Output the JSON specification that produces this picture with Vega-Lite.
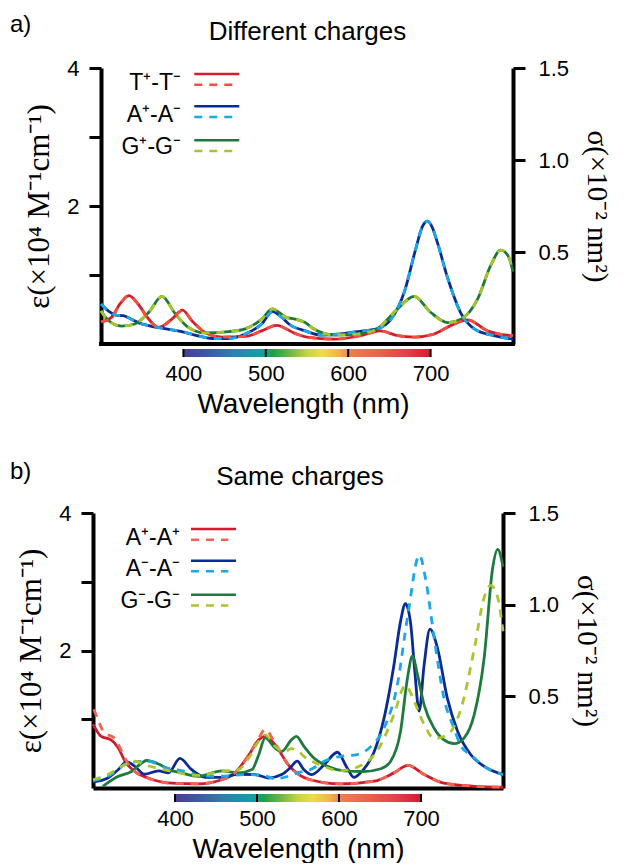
{
"$schema":"https://vega.github.io/schema/vega-lite/v6.json",
"padding":{"left":10,"top":12,"right":14,"bottom":0},
"config":{"font":"Liberation Sans","view":{"stroke":null},"axis":{"grid":false}},
"datasets":{
"a_eps":[
{"s":"T_s","wl":300,"v":0.32},{"s":"T_s","wl":313,"v":0.39},{"s":"T_s","wl":323,"v":0.58},{"s":"T_s","wl":334,"v":0.70},{"s":"T_s","wl":345,"v":0.58},{"s":"T_s","wl":356,"v":0.39},{"s":"T_s","wl":370,"v":0.24},{"s":"T_s","wl":386,"v":0.36},{"s":"T_s","wl":399,"v":0.49},{"s":"T_s","wl":410,"v":0.34},{"s":"T_s","wl":426,"v":0.17},{"s":"T_s","wl":447,"v":0.10},{"s":"T_s","wl":475,"v":0.11},{"s":"T_s","wl":495,"v":0.19},{"s":"T_s","wl":513,"v":0.27},{"s":"T_s","wl":536,"v":0.15},{"s":"T_s","wl":550,"v":0.10},{"s":"T_s","wl":583,"v":0.07},{"s":"T_s","wl":615,"v":0.12},{"s":"T_s","wl":639,"v":0.19},{"s":"T_s","wl":660,"v":0.12},{"s":"T_s","wl":680,"v":0.10},{"s":"T_s","wl":704,"v":0.145},{"s":"T_s","wl":725,"v":0.27},{"s":"T_s","wl":745,"v":0.35},{"s":"T_s","wl":769,"v":0.19},{"s":"T_s","wl":785,"v":0.14},{"s":"T_s","wl":800,"v":0.12},
{"s":"A_s","wl":300,"v":0.58},{"s":"A_s","wl":310,"v":0.47},{"s":"A_s","wl":318,"v":0.42},{"s":"A_s","wl":327,"v":0.41},{"s":"A_s","wl":335,"v":0.37},{"s":"A_s","wl":345,"v":0.31},{"s":"A_s","wl":360,"v":0.26},{"s":"A_s","wl":374,"v":0.23},{"s":"A_s","wl":398,"v":0.18},{"s":"A_s","wl":414,"v":0.13},{"s":"A_s","wl":435,"v":0.08},{"s":"A_s","wl":455,"v":0.08},{"s":"A_s","wl":475,"v":0.145},{"s":"A_s","wl":495,"v":0.29},{"s":"A_s","wl":508,"v":0.47},{"s":"A_s","wl":520,"v":0.38},{"s":"A_s","wl":528,"v":0.29},{"s":"A_s","wl":548,"v":0.19},{"s":"A_s","wl":566,"v":0.13},{"s":"A_s","wl":591,"v":0.145},{"s":"A_s","wl":611,"v":0.18},{"s":"A_s","wl":635,"v":0.22},{"s":"A_s","wl":652,"v":0.36},{"s":"A_s","wl":668,"v":0.75},{"s":"A_s","wl":682,"v":1.38},{"s":"A_s","wl":690,"v":1.70},{"s":"A_s","wl":696,"v":1.78},{"s":"A_s","wl":702,"v":1.69},{"s":"A_s","wl":708,"v":1.48},{"s":"A_s","wl":721,"v":0.945},{"s":"A_s","wl":737,"v":0.44},{"s":"A_s","wl":753,"v":0.22},{"s":"A_s","wl":777,"v":0.12},{"s":"A_s","wl":800,"v":0.07},
{"s":"G_s","wl":300,"v":0.48},{"s":"G_s","wl":309,"v":0.34},{"s":"G_s","wl":325,"v":0.26},{"s":"G_s","wl":341,"v":0.29},{"s":"G_s","wl":358,"v":0.46},{"s":"G_s","wl":374,"v":0.69},{"s":"G_s","wl":390,"v":0.44},{"s":"G_s","wl":406,"v":0.24},{"s":"G_s","wl":426,"v":0.16},{"s":"G_s","wl":455,"v":0.18},{"s":"G_s","wl":475,"v":0.22},{"s":"G_s","wl":495,"v":0.36},{"s":"G_s","wl":508,"v":0.51},{"s":"G_s","wl":524,"v":0.39},{"s":"G_s","wl":536,"v":0.36},{"s":"G_s","wl":548,"v":0.31},{"s":"G_s","wl":558,"v":0.22},{"s":"G_s","wl":583,"v":0.13},{"s":"G_s","wl":611,"v":0.145},{"s":"G_s","wl":635,"v":0.22},{"s":"G_s","wl":660,"v":0.51},{"s":"G_s","wl":680,"v":0.69},{"s":"G_s","wl":700,"v":0.46},{"s":"G_s","wl":721,"v":0.31},{"s":"G_s","wl":737,"v":0.36},{"s":"G_s","wl":757,"v":0.65},{"s":"G_s","wl":773,"v":1.14},{"s":"G_s","wl":785,"v":1.36},{"s":"G_s","wl":794,"v":1.28},{"s":"G_s","wl":800,"v":1.05}
],
"a_sig":[
{"s":"T_d","wl":300,"v":0.12},{"s":"T_d","wl":313,"v":0.146},{"s":"T_d","wl":323,"v":0.2175},{"s":"T_d","wl":334,"v":0.2625},{"s":"T_d","wl":345,"v":0.2175},{"s":"T_d","wl":356,"v":0.146},{"s":"T_d","wl":370,"v":0.09},{"s":"T_d","wl":386,"v":0.135},{"s":"T_d","wl":399,"v":0.184},{"s":"T_d","wl":410,"v":0.1275},{"s":"T_d","wl":426,"v":0.064},{"s":"T_d","wl":447,"v":0.0375},{"s":"T_d","wl":475,"v":0.041},{"s":"T_d","wl":495,"v":0.071},{"s":"T_d","wl":513,"v":0.101},{"s":"T_d","wl":536,"v":0.056},{"s":"T_d","wl":550,"v":0.0375},{"s":"T_d","wl":583,"v":0.026},{"s":"T_d","wl":615,"v":0.045},{"s":"T_d","wl":639,"v":0.071},{"s":"T_d","wl":660,"v":0.045},{"s":"T_d","wl":680,"v":0.0375},{"s":"T_d","wl":704,"v":0.054},{"s":"T_d","wl":725,"v":0.101},{"s":"T_d","wl":745,"v":0.131},{"s":"T_d","wl":769,"v":0.071},{"s":"T_d","wl":785,"v":0.0525},{"s":"T_d","wl":800,"v":0.045},
{"s":"A_d","wl":300,"v":0.2175},{"s":"A_d","wl":310,"v":0.176},{"s":"A_d","wl":318,"v":0.1575},{"s":"A_d","wl":327,"v":0.154},{"s":"A_d","wl":335,"v":0.139},{"s":"A_d","wl":345,"v":0.116},{"s":"A_d","wl":360,"v":0.0975},{"s":"A_d","wl":374,"v":0.086},{"s":"A_d","wl":398,"v":0.0675},{"s":"A_d","wl":414,"v":0.049},{"s":"A_d","wl":435,"v":0.03},{"s":"A_d","wl":455,"v":0.03},{"s":"A_d","wl":475,"v":0.054},{"s":"A_d","wl":495,"v":0.109},{"s":"A_d","wl":508,"v":0.176},{"s":"A_d","wl":520,"v":0.1425},{"s":"A_d","wl":528,"v":0.109},{"s":"A_d","wl":548,"v":0.071},{"s":"A_d","wl":566,"v":0.049},{"s":"A_d","wl":591,"v":0.054},{"s":"A_d","wl":611,"v":0.0675},{"s":"A_d","wl":635,"v":0.0825},{"s":"A_d","wl":652,"v":0.135},{"s":"A_d","wl":668,"v":0.281},{"s":"A_d","wl":682,"v":0.5175},{"s":"A_d","wl":690,"v":0.6375},{"s":"A_d","wl":696,"v":0.6675},{"s":"A_d","wl":702,"v":0.634},{"s":"A_d","wl":708,"v":0.555},{"s":"A_d","wl":721,"v":0.354},{"s":"A_d","wl":737,"v":0.165},{"s":"A_d","wl":753,"v":0.0825},{"s":"A_d","wl":777,"v":0.045},{"s":"A_d","wl":800,"v":0.026},
{"s":"G_d","wl":300,"v":0.18},{"s":"G_d","wl":309,"v":0.1275},{"s":"G_d","wl":325,"v":0.0975},{"s":"G_d","wl":341,"v":0.109},{"s":"G_d","wl":358,"v":0.1725},{"s":"G_d","wl":374,"v":0.259},{"s":"G_d","wl":390,"v":0.165},{"s":"G_d","wl":406,"v":0.09},{"s":"G_d","wl":426,"v":0.06},{"s":"G_d","wl":455,"v":0.0675},{"s":"G_d","wl":475,"v":0.0825},{"s":"G_d","wl":495,"v":0.135},{"s":"G_d","wl":508,"v":0.191},{"s":"G_d","wl":524,"v":0.146},{"s":"G_d","wl":536,"v":0.135},{"s":"G_d","wl":548,"v":0.116},{"s":"G_d","wl":558,"v":0.0825},{"s":"G_d","wl":583,"v":0.049},{"s":"G_d","wl":611,"v":0.054},{"s":"G_d","wl":635,"v":0.0825},{"s":"G_d","wl":660,"v":0.191},{"s":"G_d","wl":680,"v":0.259},{"s":"G_d","wl":700,"v":0.1725},{"s":"G_d","wl":721,"v":0.116},{"s":"G_d","wl":737,"v":0.135},{"s":"G_d","wl":757,"v":0.244},{"s":"G_d","wl":773,"v":0.4275},{"s":"G_d","wl":785,"v":0.51},{"s":"G_d","wl":794,"v":0.48},{"s":"G_d","wl":800,"v":0.394}
],
"b_eps":[
{"s":"P_s","wl":300,"v":0.93},{"s":"P_s","wl":310,"v":0.75},{"s":"P_s","wl":322,"v":0.70},{"s":"P_s","wl":331,"v":0.58},{"s":"P_s","wl":339,"v":0.39},{"s":"P_s","wl":351,"v":0.24},{"s":"P_s","wl":367,"v":0.145},{"s":"P_s","wl":396,"v":0.07},{"s":"P_s","wl":428,"v":0.06},{"s":"P_s","wl":457,"v":0.12},{"s":"P_s","wl":473,"v":0.22},{"s":"P_s","wl":490,"v":0.48},{"s":"P_s","wl":502,"v":0.70},{"s":"P_s","wl":510,"v":0.75},{"s":"P_s","wl":522,"v":0.63},{"s":"P_s","wl":538,"v":0.34},{"s":"P_s","wl":551,"v":0.195},{"s":"P_s","wl":565,"v":0.12},{"s":"P_s","wl":602,"v":0.06},{"s":"P_s","wl":643,"v":0.10},{"s":"P_s","wl":667,"v":0.22},{"s":"P_s","wl":684,"v":0.33},{"s":"P_s","wl":704,"v":0.195},{"s":"P_s","wl":728,"v":0.07},{"s":"P_s","wl":765,"v":0.025},{"s":"P_s","wl":800,"v":0.01},
{"s":"M_s","wl":300,"v":0.087},{"s":"M_s","wl":318,"v":0.145},{"s":"M_s","wl":331,"v":0.27},{"s":"M_s","wl":341,"v":0.38},{"s":"M_s","wl":351,"v":0.315},{"s":"M_s","wl":363,"v":0.20},{"s":"M_s","wl":380,"v":0.25},{"s":"M_s","wl":392,"v":0.22},{"s":"M_s","wl":406,"v":0.43},{"s":"M_s","wl":420,"v":0.27},{"s":"M_s","wl":437,"v":0.155},{"s":"M_s","wl":457,"v":0.155},{"s":"M_s","wl":477,"v":0.20},{"s":"M_s","wl":498,"v":0.195},{"s":"M_s","wl":514,"v":0.145},{"s":"M_s","wl":530,"v":0.195},{"s":"M_s","wl":541,"v":0.30},{"s":"M_s","wl":549,"v":0.39},{"s":"M_s","wl":557,"v":0.27},{"s":"M_s","wl":567,"v":0.195},{"s":"M_s","wl":582,"v":0.34},{"s":"M_s","wl":598,"v":0.52},{"s":"M_s","wl":610,"v":0.29},{"s":"M_s","wl":618,"v":0.155},{"s":"M_s","wl":630,"v":0.27},{"s":"M_s","wl":643,"v":0.53},{"s":"M_s","wl":655,"v":1.02},{"s":"M_s","wl":667,"v":1.79},{"s":"M_s","wl":675,"v":2.42},{"s":"M_s","wl":681,"v":2.68},{"s":"M_s","wl":687.5,"v":2.38},{"s":"M_s","wl":692.4,"v":1.70},{"s":"M_s","wl":697.7,"v":1.12},{"s":"M_s","wl":703.8,"v":1.79},{"s":"M_s","wl":711,"v":2.31},{"s":"M_s","wl":720,"v":2.04},{"s":"M_s","wl":732,"v":1.31},{"s":"M_s","wl":744.6,"v":0.825},{"s":"M_s","wl":761,"v":0.48},{"s":"M_s","wl":777,"v":0.315},{"s":"M_s","wl":800,"v":0.195},
{"s":"N_s","wl":312,"v":0.025},{"s":"N_s","wl":331,"v":0.17},{"s":"N_s","wl":347,"v":0.24},{"s":"N_s","wl":359,"v":0.36},{"s":"N_s","wl":365,"v":0.40},{"s":"N_s","wl":380,"v":0.35},{"s":"N_s","wl":392,"v":0.27},{"s":"N_s","wl":408,"v":0.22},{"s":"N_s","wl":428,"v":0.17},{"s":"N_s","wl":457,"v":0.25},{"s":"N_s","wl":477,"v":0.22},{"s":"N_s","wl":494,"v":0.27},{"s":"N_s","wl":502,"v":0.48},{"s":"N_s","wl":510,"v":0.73},{"s":"N_s","wl":522,"v":0.58},{"s":"N_s","wl":530,"v":0.53},{"s":"N_s","wl":542,"v":0.70},{"s":"N_s","wl":548,"v":0.75},{"s":"N_s","wl":557,"v":0.61},{"s":"N_s","wl":569,"v":0.44},{"s":"N_s","wl":586,"v":0.315},{"s":"N_s","wl":606,"v":0.25},{"s":"N_s","wl":630,"v":0.24},{"s":"N_s","wl":651,"v":0.28},{"s":"N_s","wl":663,"v":0.39},{"s":"N_s","wl":675,"v":0.82},{"s":"N_s","wl":683.5,"v":1.6},{"s":"N_s","wl":689.6,"v":1.92},{"s":"N_s","wl":695.7,"v":1.65},{"s":"N_s","wl":703.8,"v":1.21},{"s":"N_s","wl":716,"v":0.87},{"s":"N_s","wl":728,"v":0.70},{"s":"N_s","wl":740.5,"v":0.645},{"s":"N_s","wl":752.7,"v":0.73},{"s":"N_s","wl":765,"v":1.07},{"s":"N_s","wl":777,"v":1.89},{"s":"N_s","wl":787.4,"v":3.2},{"s":"N_s","wl":793.5,"v":3.47},{"s":"N_s","wl":800,"v":3.22}
],
"b_sig":[
{"s":"P_d","wl":301,"v":0.43},{"s":"P_d","wl":306,"v":0.373},{"s":"P_d","wl":314,"v":0.30},{"s":"P_d","wl":326,"v":0.273},{"s":"P_d","wl":335,"v":0.20},{"s":"P_d","wl":341,"v":0.146},{"s":"P_d","wl":351,"v":0.09},{"s":"P_d","wl":367,"v":0.054},{"s":"P_d","wl":396,"v":0.026},{"s":"P_d","wl":428,"v":0.0225},{"s":"P_d","wl":457,"v":0.045},{"s":"P_d","wl":473,"v":0.0825},{"s":"P_d","wl":490,"v":0.18},{"s":"P_d","wl":502,"v":0.27},{"s":"P_d","wl":510,"v":0.32},{"s":"P_d","wl":522,"v":0.245},{"s":"P_d","wl":538,"v":0.1275},{"s":"P_d","wl":551,"v":0.073},{"s":"P_d","wl":565,"v":0.045},{"s":"P_d","wl":602,"v":0.0225},{"s":"P_d","wl":643,"v":0.0375},{"s":"P_d","wl":667,"v":0.0825},{"s":"P_d","wl":684,"v":0.124},{"s":"P_d","wl":704,"v":0.073},{"s":"P_d","wl":728,"v":0.026},{"s":"P_d","wl":765,"v":0.01},{"s":"P_d","wl":800,"v":0.004},
{"s":"M_d","wl":300,"v":0.04},{"s":"M_d","wl":322,"v":0.073},{"s":"M_d","wl":335,"v":0.118},{"s":"M_d","wl":351,"v":0.142},{"s":"M_d","wl":367,"v":0.146},{"s":"M_d","wl":388,"v":0.113},{"s":"M_d","wl":416,"v":0.086},{"s":"M_d","wl":432,"v":0.065},{"s":"M_d","wl":457,"v":0.064},{"s":"M_d","wl":485,"v":0.073},{"s":"M_d","wl":506,"v":0.07},{"s":"M_d","wl":522,"v":0.051},{"s":"M_d","wl":538,"v":0.064},{"s":"M_d","wl":551,"v":0.085},{"s":"M_d","wl":565,"v":0.10},{"s":"M_d","wl":582,"v":0.146},{"s":"M_d","wl":602,"v":0.173},{"s":"M_d","wl":622,"v":0.182},{"s":"M_d","wl":639,"v":0.227},{"s":"M_d","wl":655,"v":0.327},{"s":"M_d","wl":671,"v":0.56},{"s":"M_d","wl":684,"v":0.945},{"s":"M_d","wl":698,"v":1.27},{"s":"M_d","wl":706,"v":1.13},{"s":"M_d","wl":716,"v":0.82},{"s":"M_d","wl":728,"v":0.49},{"s":"M_d","wl":740,"v":0.327},{"s":"M_d","wl":749,"v":0.227},{"s":"M_d","wl":761,"v":0.18},{"s":"M_d","wl":777,"v":0.118},{"s":"M_d","wl":800,"v":0.073},
{"s":"N_d","wl":300,"v":0.045},{"s":"N_d","wl":318,"v":0.073},{"s":"N_d","wl":335,"v":0.118},{"s":"N_d","wl":351,"v":0.146},{"s":"N_d","wl":363,"v":0.127},{"s":"N_d","wl":396,"v":0.091},{"s":"N_d","wl":428,"v":0.069},{"s":"N_d","wl":457,"v":0.091},{"s":"N_d","wl":477,"v":0.10},{"s":"N_d","wl":490,"v":0.164},{"s":"N_d","wl":502,"v":0.255},{"s":"N_d","wl":510,"v":0.29},{"s":"N_d","wl":522,"v":0.227},{"s":"N_d","wl":534,"v":0.20},{"s":"N_d","wl":542,"v":0.215},{"s":"N_d","wl":551,"v":0.20},{"s":"N_d","wl":557,"v":0.173},{"s":"N_d","wl":577,"v":0.127},{"s":"N_d","wl":602,"v":0.094},{"s":"N_d","wl":635,"v":0.146},{"s":"N_d","wl":651,"v":0.236},{"s":"N_d","wl":667,"v":0.40},{"s":"N_d","wl":681,"v":0.56},{"s":"N_d","wl":692,"v":0.47},{"s":"N_d","wl":704,"v":0.345},{"s":"N_d","wl":716,"v":0.27},{"s":"N_d","wl":732,"v":0.29},{"s":"N_d","wl":749,"v":0.436},{"s":"N_d","wl":765,"v":0.76},{"s":"N_d","wl":777,"v":1.04},{"s":"N_d","wl":785,"v":1.105},{"s":"N_d","wl":793.5,"v":1.04},{"s":"N_d","wl":800,"v":0.855}
],
"bar":[{"w0":400,"w1":700}],
"ticks":[{"t":400},{"t":500},{"t":600},{"t":700}],
"one":[{}]
},
"vconcat":[
{"spacing":1,"vconcat":[
{"width":420,"height":276,
"resolve":{"scale":{"y":"independent"}},
"layer":[
{"data":{"name":"a_eps"},"mark":{"type":"line","strokeWidth":2.8,"interpolate":"monotone"},
"encoding":{"x":{"field":"wl","type":"quantitative","scale":{"domain":[290.3,800],"nice":false,"zero":false},"axis":{"domain":false,"ticks":false,"labels":false,"title":null,"grid":false}},
"y":{"field":"v","type":"quantitative","scale":{"domain":[0,4],"nice":false,"zero":false},"axis":{"orient":"left","offset":-8,"values":[1,2,3,4],"format":"d","labelExpr":"datum.value==2||datum.value==4?datum.label:''","domainWidth":4,"domainColor":"black","tickSize":12,"tickWidth":3,"tickColor":"black","labelFont":"Liberation Sans","labelFontSize":22,"labelColor":"black","labelPadding":10,"title":"ε(×10⁴ M⁻¹cm⁻¹)","titleFont":"Liberation Serif","titleFontSize":31,"titleFontWeight":"normal","titleColor":"black","titlePadding":11,"grid":false}},
"color":{"field":"s","type":"nominal","legend":null,"scale":{"domain":["T_s","T_d","A_s","A_d","G_s","G_d","P_s","P_d","M_s","M_d","N_s","N_d"],"range":["#d41c2e","#f0503c","#0c2a94","#1aa8e8","#1b7a3b","#a6c52b","#cf1a30","#f06450","#0c2a94","#1aa8e8","#1e7a3e","#a8c62e"]}}}},
{"data":{"name":"a_sig"},"mark":{"type":"line","strokeWidth":2.8,"interpolate":"monotone","strokeDash":[8,7]},
"encoding":{"x":{"field":"wl","type":"quantitative","scale":{"domain":[290.3,800],"nice":false,"zero":false},"axis":{"domain":false,"ticks":false,"labels":false,"title":null,"grid":false}},
"y":{"field":"v","type":"quantitative","scale":{"domain":[0,1.5],"nice":false,"zero":false},"axis":{"orient":"right","values":[0.5,1,1.5],"format":".1f","domainWidth":4,"domainColor":"black","tickSize":12,"tickWidth":3,"tickColor":"black","labelFont":"Liberation Sans","labelFontSize":22,"labelColor":"black","labelPadding":13,"title":"σ(×10⁻² nm²)","titleFont":"Liberation Serif","titleFontSize":29,"titleFontWeight":"normal","titleColor":"black","titlePadding":13,"grid":false}},
"color":{"field":"s","type":"nominal","legend":null,"scale":{"domain":["T_s","T_d","A_s","A_d","G_s","G_d","P_s","P_d","M_s","M_d","N_s","N_d"],"range":["#d41c2e","#f0503c","#0c2a94","#1aa8e8","#1b7a3b","#a6c52b","#cf1a30","#f06450","#0c2a94","#1aa8e8","#1e7a3e","#a8c62e"]}}}},
{"data":{"name":"one"},"mark":{"type":"rule","strokeWidth":4,"color":"black","strokeCap":"square"},
"encoding":{"x":{"datum":300,"type":"quantitative","scale":{"domain":[290.3,800],"nice":false,"zero":false},"axis":{"domain":false,"ticks":false,"labels":false,"title":null,"grid":false}},"x2":{"datum":800},"y":{"datum":0,"type":"quantitative","scale":{"domain":[0,4],"nice":false,"zero":false},"axis":null}}},
{"data":{"name":"one"},"mark":{"type":"rule","strokeWidth":2.5,"color":"#d41c2e"},
"encoding":{"x":{"datum":413.2,"type":"quantitative","scale":{"domain":[290.3,800],"nice":false,"zero":false},"axis":{"domain":false,"ticks":false,"labels":false,"title":null,"grid":false}},"x2":{"datum":467.8},"y":{"datum":3.913,"type":"quantitative","scale":{"domain":[0,4],"nice":false,"zero":false},"axis":null}}},
{"data":{"name":"one"},"mark":{"type":"rule","strokeWidth":2.5,"color":"#f0503c","strokeDash":[8,7]},
"encoding":{"x":{"datum":413.2,"type":"quantitative","scale":{"domain":[290.3,800],"nice":false,"zero":false},"axis":{"domain":false,"ticks":false,"labels":false,"title":null,"grid":false}},"x2":{"datum":460.5},"y":{"datum":3.757,"type":"quantitative","scale":{"domain":[0,4],"nice":false,"zero":false},"axis":null}}},
{"data":{"name":"one"},"mark":{"type":"rule","strokeWidth":2.5,"color":"#0c2a94"},
"encoding":{"x":{"datum":413.2,"type":"quantitative","scale":{"domain":[290.3,800],"nice":false,"zero":false},"axis":{"domain":false,"ticks":false,"labels":false,"title":null,"grid":false}},"x2":{"datum":467.8},"y":{"datum":3.447,"type":"quantitative","scale":{"domain":[0,4],"nice":false,"zero":false},"axis":null}}},
{"data":{"name":"one"},"mark":{"type":"rule","strokeWidth":2.5,"color":"#1aa8e8","strokeDash":[8,7]},
"encoding":{"x":{"datum":413.2,"type":"quantitative","scale":{"domain":[290.3,800],"nice":false,"zero":false},"axis":{"domain":false,"ticks":false,"labels":false,"title":null,"grid":false}},"x2":{"datum":460.5},"y":{"datum":3.29,"type":"quantitative","scale":{"domain":[0,4],"nice":false,"zero":false},"axis":null}}},
{"data":{"name":"one"},"mark":{"type":"rule","strokeWidth":2.5,"color":"#1b7a3b"},
"encoding":{"x":{"datum":413.2,"type":"quantitative","scale":{"domain":[290.3,800],"nice":false,"zero":false},"axis":{"domain":false,"ticks":false,"labels":false,"title":null,"grid":false}},"x2":{"datum":467.8},"y":{"datum":2.953,"type":"quantitative","scale":{"domain":[0,4],"nice":false,"zero":false},"axis":null}}},
{"data":{"name":"one"},"mark":{"type":"rule","strokeWidth":2.5,"color":"#a6c52b","strokeDash":[8,7]},
"encoding":{"x":{"datum":413.2,"type":"quantitative","scale":{"domain":[290.3,800],"nice":false,"zero":false},"axis":{"domain":false,"ticks":false,"labels":false,"title":null,"grid":false}},"x2":{"datum":460.5},"y":{"datum":2.797,"type":"quantitative","scale":{"domain":[0,4],"nice":false,"zero":false},"axis":null}}},
{"data":{"name":"one"},"mark":{"type":"text","text":"T⁺-T⁻","align":"right","baseline":"alphabetic","fontSize":23,"font":"Liberation Sans","color":"black"},
"encoding":{"x":{"datum":397.1,"type":"quantitative","scale":{"domain":[290.3,800],"nice":false,"zero":false},"axis":{"domain":false,"ticks":false,"labels":false,"title":null,"grid":false}},"y":{"datum":3.687,"type":"quantitative","scale":{"domain":[0,4],"nice":false,"zero":false},"axis":null}}},
{"data":{"name":"one"},"mark":{"type":"text","text":"A⁺-A⁻","align":"right","baseline":"alphabetic","fontSize":23,"font":"Liberation Sans","color":"black"},
"encoding":{"x":{"datum":397.1,"type":"quantitative","scale":{"domain":[290.3,800],"nice":false,"zero":false},"axis":{"domain":false,"ticks":false,"labels":false,"title":null,"grid":false}},"y":{"datum":3.2145,"type":"quantitative","scale":{"domain":[0,4],"nice":false,"zero":false},"axis":null}}},
{"data":{"name":"one"},"mark":{"type":"text","text":"G⁺-G⁻","align":"right","baseline":"alphabetic","fontSize":23,"font":"Liberation Sans","color":"black"},
"encoding":{"x":{"datum":397.1,"type":"quantitative","scale":{"domain":[290.3,800],"nice":false,"zero":false},"axis":{"domain":false,"ticks":false,"labels":false,"title":null,"grid":false}},"y":{"datum":2.749,"type":"quantitative","scale":{"domain":[0,4],"nice":false,"zero":false},"axis":null}}},
{"data":{"name":"one"},"mark":{"type":"text","text":"a)","align":"left","baseline":"alphabetic","fontSize":24,"font":"Liberation Sans","color":"black"},
"encoding":{"x":{"datum":189.6,"type":"quantitative","scale":{"domain":[290.3,800],"nice":false,"zero":false},"axis":{"domain":false,"ticks":false,"labels":false,"title":null,"grid":false}},"y":{"datum":4.524,"type":"quantitative","scale":{"domain":[0,4],"nice":false,"zero":false},"axis":null}}},
{"data":{"name":"one"},"mark":{"type":"text","text":"Different charges","align":"center","baseline":"alphabetic","fontSize":26,"font":"Liberation Sans","color":"black"},
"encoding":{"x":{"datum":550.6,"type":"quantitative","scale":{"domain":[290.3,800],"nice":false,"zero":false},"axis":{"domain":false,"ticks":false,"labels":false,"title":null,"grid":false}},"y":{"datum":4.41,"type":"quantitative","scale":{"domain":[0,4],"nice":false,"zero":false},"axis":null}}}
]},
{"width":420,"height":8,
"layer":[
{"data":{"name":"bar"},"mark":{"type":"rect","color":{"gradient":"linear","x1":0,"x2":1,"y1":0,"y2":0,"stops":[{"offset":0,"color":"#4a3d98"},{"offset":0.1,"color":"#3d5aa6"},{"offset":0.2,"color":"#2e7fae"},{"offset":0.3,"color":"#139ca8"},{"offset":0.333,"color":"#0ea38e"},{"offset":0.36,"color":"#1f9e4a"},{"offset":0.43,"color":"#6db644"},{"offset":0.5,"color":"#c6d443"},{"offset":0.56,"color":"#eedc4a"},{"offset":0.63,"color":"#f4b04a"},{"offset":0.68,"color":"#ee7d4c"},{"offset":0.8,"color":"#e7604b"},{"offset":0.9,"color":"#e2404a"},{"offset":1,"color":"#d51b2f"}]}},
"encoding":{"x":{"field":"w0","type":"quantitative","scale":{"domain":[290.3,800],"nice":false,"zero":false},"axis":{"values":[400,500,600,700],"format":"d","ticks":false,"domain":false,"labelPadding":6,"labelFont":"Liberation Sans","labelFontSize":22,"labelColor":"black","title":"Wavelength (nm)","titleFont":"Liberation Sans","titleFontSize":28,"titleFontWeight":"normal","titleColor":"black","titlePadding":6,"grid":false}},"x2":{"field":"w1"}}},
{"data":{"name":"ticks"},"mark":{"type":"rule","strokeWidth":2,"color":"black"},
"encoding":{"x":{"field":"t","type":"quantitative","scale":{"domain":[290.3,800],"nice":false,"zero":false},"axis":{"values":[400,500,600,700],"format":"d","ticks":false,"domain":false,"labelPadding":6,"labelFont":"Liberation Sans","labelFontSize":22,"labelColor":"black","title":"Wavelength (nm)","titleFont":"Liberation Sans","titleFontSize":28,"titleFontWeight":"normal","titleColor":"black","titlePadding":6,"grid":false}}}}
]}
]},
{"spacing":0,"vconcat":[
{"width":410,"height":275,
"resolve":{"scale":{"y":"independent"}},
"layer":[
{"data":{"name":"b_eps"},"mark":{"type":"line","strokeWidth":2.8,"interpolate":"monotone"},
"encoding":{"x":{"field":"wl","type":"quantitative","scale":{"domain":[300,800],"nice":false,"zero":false},"axis":{"domain":true,"domainWidth":4,"domainColor":"black","ticks":false,"labels":false,"title":null,"grid":false}},
"y":{"field":"v","type":"quantitative","scale":{"domain":[0,4],"nice":false,"zero":false},"axis":{"orient":"left","values":[1,2,3,4],"format":"d","labelExpr":"datum.value==2||datum.value==4?datum.label:''","domainWidth":4,"domainColor":"black","tickSize":12,"tickWidth":3,"tickColor":"black","labelFont":"Liberation Sans","labelFontSize":22,"labelColor":"black","labelPadding":10,"title":"ε(×10⁴ M⁻¹cm⁻¹)","titleFont":"Liberation Serif","titleFontSize":31,"titleFontWeight":"normal","titleColor":"black","titlePadding":11,"grid":false}},
"color":{"field":"s","type":"nominal","legend":null,"scale":{"domain":["T_s","T_d","A_s","A_d","G_s","G_d","P_s","P_d","M_s","M_d","N_s","N_d"],"range":["#d41c2e","#f0503c","#0c2a94","#1aa8e8","#1b7a3b","#a6c52b","#cf1a30","#f06450","#0c2a94","#1aa8e8","#1e7a3e","#a8c62e"]}}}},
{"data":{"name":"b_sig"},"mark":{"type":"line","strokeWidth":2.8,"interpolate":"monotone","strokeDash":[8,7]},
"encoding":{"x":{"field":"wl","type":"quantitative","scale":{"domain":[300,800],"nice":false,"zero":false},"axis":{"domain":true,"domainWidth":4,"domainColor":"black","ticks":false,"labels":false,"title":null,"grid":false}},
"y":{"field":"v","type":"quantitative","scale":{"domain":[0,1.5],"nice":false,"zero":false},"axis":{"orient":"right","values":[0.5,1,1.5],"format":".1f","domainWidth":4,"domainColor":"black","tickSize":12,"tickWidth":3,"tickColor":"black","labelFont":"Liberation Sans","labelFontSize":22,"labelColor":"black","labelPadding":13,"title":"σ(×10⁻² nm²)","titleFont":"Liberation Serif","titleFontSize":29,"titleFontWeight":"normal","titleColor":"black","titlePadding":13,"grid":false}},
"color":{"field":"s","type":"nominal","legend":null,"scale":{"domain":["T_s","T_d","A_s","A_d","G_s","G_d","P_s","P_d","M_s","M_d","N_s","N_d"],"range":["#d41c2e","#f0503c","#0c2a94","#1aa8e8","#1b7a3b","#a6c52b","#cf1a30","#f06450","#0c2a94","#1aa8e8","#1e7a3e","#a8c62e"]}}}},
{"data":{"name":"one"},"mark":{"type":"rule","strokeWidth":2.5,"color":"#cf1a30"},
"encoding":{"x":{"datum":419.5,"type":"quantitative","scale":{"domain":[300,800],"nice":false,"zero":false},"axis":{"domain":true,"domainWidth":4,"domainColor":"black","ticks":false,"labels":false,"title":null,"grid":false}},"x2":{"datum":474.4},"y":{"datum":3.767,"type":"quantitative","scale":{"domain":[0,4],"nice":false,"zero":false},"axis":null}}},
{"data":{"name":"one"},"mark":{"type":"rule","strokeWidth":2.5,"color":"#f06450","strokeDash":[8,7]},
"encoding":{"x":{"datum":419.5,"type":"quantitative","scale":{"domain":[300,800],"nice":false,"zero":false},"axis":{"domain":true,"domainWidth":4,"domainColor":"black","ticks":false,"labels":false,"title":null,"grid":false}},"x2":{"datum":465},"y":{"datum":3.612,"type":"quantitative","scale":{"domain":[0,4],"nice":false,"zero":false},"axis":null}}},
{"data":{"name":"one"},"mark":{"type":"rule","strokeWidth":2.5,"color":"#0c2a94"},
"encoding":{"x":{"datum":419.5,"type":"quantitative","scale":{"domain":[300,800],"nice":false,"zero":false},"axis":{"domain":true,"domainWidth":4,"domainColor":"black","ticks":false,"labels":false,"title":null,"grid":false}},"x2":{"datum":474.4},"y":{"datum":3.306,"type":"quantitative","scale":{"domain":[0,4],"nice":false,"zero":false},"axis":null}}},
{"data":{"name":"one"},"mark":{"type":"rule","strokeWidth":2.5,"color":"#1aa8e8","strokeDash":[8,7]},
"encoding":{"x":{"datum":419.5,"type":"quantitative","scale":{"domain":[300,800],"nice":false,"zero":false},"axis":{"domain":true,"domainWidth":4,"domainColor":"black","ticks":false,"labels":false,"title":null,"grid":false}},"x2":{"datum":465},"y":{"datum":3.152,"type":"quantitative","scale":{"domain":[0,4],"nice":false,"zero":false},"axis":null}}},
{"data":{"name":"one"},"mark":{"type":"rule","strokeWidth":2.5,"color":"#1e7a3e"},
"encoding":{"x":{"datum":419.5,"type":"quantitative","scale":{"domain":[300,800],"nice":false,"zero":false},"axis":{"domain":true,"domainWidth":4,"domainColor":"black","ticks":false,"labels":false,"title":null,"grid":false}},"x2":{"datum":474.4},"y":{"datum":2.812,"type":"quantitative","scale":{"domain":[0,4],"nice":false,"zero":false},"axis":null}}},
{"data":{"name":"one"},"mark":{"type":"rule","strokeWidth":2.5,"color":"#a8c62e","strokeDash":[8,7]},
"encoding":{"x":{"datum":419.5,"type":"quantitative","scale":{"domain":[300,800],"nice":false,"zero":false},"axis":{"domain":true,"domainWidth":4,"domainColor":"black","ticks":false,"labels":false,"title":null,"grid":false}},"x2":{"datum":465},"y":{"datum":2.655,"type":"quantitative","scale":{"domain":[0,4],"nice":false,"zero":false},"axis":null}}},
{"data":{"name":"one"},"mark":{"type":"text","text":"A⁺-A⁺","align":"right","baseline":"alphabetic","fontSize":23,"font":"Liberation Sans","color":"black"},
"encoding":{"x":{"datum":406.1,"type":"quantitative","scale":{"domain":[300,800],"nice":false,"zero":false},"axis":{"domain":true,"domainWidth":4,"domainColor":"black","ticks":false,"labels":false,"title":null,"grid":false}},"y":{"datum":3.539,"type":"quantitative","scale":{"domain":[0,4],"nice":false,"zero":false},"axis":null}}},
{"data":{"name":"one"},"mark":{"type":"text","text":"A⁻-A⁻","align":"right","baseline":"alphabetic","fontSize":23,"font":"Liberation Sans","color":"black"},
"encoding":{"x":{"datum":406.1,"type":"quantitative","scale":{"domain":[300,800],"nice":false,"zero":false},"axis":{"domain":true,"domainWidth":4,"domainColor":"black","ticks":false,"labels":false,"title":null,"grid":false}},"y":{"datum":3.079,"type":"quantitative","scale":{"domain":[0,4],"nice":false,"zero":false},"axis":null}}},
{"data":{"name":"one"},"mark":{"type":"text","text":"G⁻-G⁻","align":"right","baseline":"alphabetic","fontSize":23,"font":"Liberation Sans","color":"black"},
"encoding":{"x":{"datum":406.1,"type":"quantitative","scale":{"domain":[300,800],"nice":false,"zero":false},"axis":{"domain":true,"domainWidth":4,"domainColor":"black","ticks":false,"labels":false,"title":null,"grid":false}},"y":{"datum":2.614,"type":"quantitative","scale":{"domain":[0,4],"nice":false,"zero":false},"axis":null}}},
{"data":{"name":"one"},"mark":{"type":"text","text":"b)","align":"left","baseline":"alphabetic","fontSize":24,"font":"Liberation Sans","color":"black"},
"encoding":{"x":{"datum":198.8,"type":"quantitative","scale":{"domain":[300,800],"nice":false,"zero":false},"axis":{"domain":true,"domainWidth":4,"domainColor":"black","ticks":false,"labels":false,"title":null,"grid":false}},"y":{"datum":4.5,"type":"quantitative","scale":{"domain":[0,4],"nice":false,"zero":false},"axis":null}}},
{"data":{"name":"one"},"mark":{"type":"text","text":"Same charges","align":"center","baseline":"alphabetic","fontSize":26,"font":"Liberation Sans","color":"black"},
"encoding":{"x":{"datum":552.4,"type":"quantitative","scale":{"domain":[300,800],"nice":false,"zero":false},"axis":{"domain":true,"domainWidth":4,"domainColor":"black","ticks":false,"labels":false,"title":null,"grid":false}},"y":{"datum":4.41,"type":"quantitative","scale":{"domain":[0,4],"nice":false,"zero":false},"axis":null}}}
]},
{"width":410,"height":8,
"layer":[
{"data":{"name":"bar"},"mark":{"type":"rect","color":{"gradient":"linear","x1":0,"x2":1,"y1":0,"y2":0,"stops":[{"offset":0,"color":"#4a3d98"},{"offset":0.1,"color":"#3d5aa6"},{"offset":0.2,"color":"#2e7fae"},{"offset":0.3,"color":"#139ca8"},{"offset":0.333,"color":"#0ea38e"},{"offset":0.36,"color":"#1f9e4a"},{"offset":0.43,"color":"#6db644"},{"offset":0.5,"color":"#c6d443"},{"offset":0.56,"color":"#eedc4a"},{"offset":0.63,"color":"#f4b04a"},{"offset":0.68,"color":"#ee7d4c"},{"offset":0.8,"color":"#e7604b"},{"offset":0.9,"color":"#e2404a"},{"offset":1,"color":"#d51b2f"}]}},
"encoding":{"x":{"field":"w0","type":"quantitative","scale":{"domain":[300,800],"nice":false,"zero":false},"axis":{"values":[400,500,600,700],"format":"d","ticks":false,"domain":false,"labelPadding":6,"labelFont":"Liberation Sans","labelFontSize":22,"labelColor":"black","title":"Wavelength (nm)","titleFont":"Liberation Sans","titleFontSize":28,"titleFontWeight":"normal","titleColor":"black","titlePadding":6,"grid":false}},"x2":{"field":"w1"}}},
{"data":{"name":"ticks"},"mark":{"type":"rule","strokeWidth":2,"color":"black"},
"encoding":{"x":{"field":"t","type":"quantitative","scale":{"domain":[300,800],"nice":false,"zero":false},"axis":{"values":[400,500,600,700],"format":"d","ticks":false,"domain":false,"labelPadding":6,"labelFont":"Liberation Sans","labelFontSize":22,"labelColor":"black","title":"Wavelength (nm)","titleFont":"Liberation Sans","titleFontSize":28,"titleFontWeight":"normal","titleColor":"black","titlePadding":6,"grid":false}}}}
]}
]}
],
"spacing":41
}
